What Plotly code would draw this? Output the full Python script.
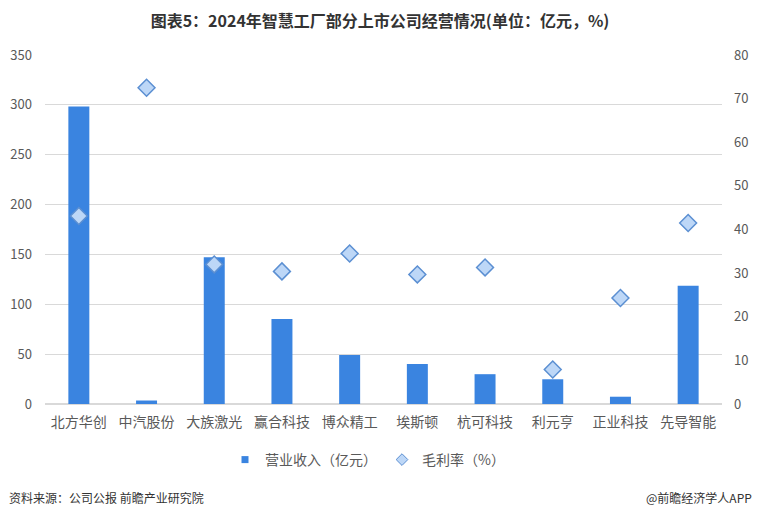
import plotly.graph_objects as go

categories = ["北方华创", "中汽股份", "大族激光", "赢合科技", "博众精工", "埃斯顿", "杭可科技", "利元亨", "正业科技", "先导智能"]
revenue = [298.4, 3.5, 147.2, 85.2, 49.2, 40.1, 29.9, 24.8, 7.3, 118.5]
margin = [43.1, 72.5, 32.0, 30.4, 34.5, 29.7, 31.3, 7.9, 24.3, 41.5]
left_ticks = [0, 50, 100, 150, 200, 250, 300, 350]
right_ticks = [0, 10, 20, 30, 40, 50, 60, 70, 80]

FONT = "Noto Sans CJK SC"
PW, PH = 677, 349
OFF = 8  # page offset compensation

BAR_C = "#3a84e0"
DIA_FILL = "#bdd7f7"
DIA_LINE = "#5b8fd2"

fig = go.Figure()
fig.add_trace(go.Bar(
    x=categories, y=revenue, name="营业收入（亿元）", showlegend=False,
    marker=dict(color=BAR_C, line=dict(width=0)),
    width=0.31,
))
fig.add_trace(go.Scatter(
    x=categories, y=margin, name="毛利率（%）", mode="markers", yaxis="y2", showlegend=False,
    marker=dict(symbol="diamond", size=13, color=DIA_FILL, line=dict(color=DIA_LINE, width=1.5)),
))
# legend-only entries with small symbols like the reference
fig.add_trace(go.Scatter(
    x=[None], y=[None], name="营业收入（亿元）", mode="markers",
    marker=dict(symbol="square", size=7, color=BAR_C),
))
fig.add_trace(go.Scatter(
    x=[None], y=[None], name="毛利率（%）", mode="markers", yaxis="y2",
    marker=dict(symbol="diamond", size=9, color=DIA_FILL, line=dict(color=DIA_LINE, width=1)),
))

fig.update_layout(
    width=760, height=519,
    margin=dict(l=45 - OFF, r=38 + OFF, t=55 - OFF, b=115 + OFF, autoexpand=False),
    paper_bgcolor="white", plot_bgcolor="white",
    font=dict(family=FONT, color="#595959", size=13),
    title=dict(text="<b>图表5：2024年智慧工厂部分上市公司经营情况(单位：亿元，%)</b>",
               x=(380 - OFF) / 760, xanchor="center", xref="container", y=1 - (21 - OFF)/519,
               yanchor="middle", font=dict(size=16, color="#333333", family=FONT)),
    xaxis=dict(tickfont=dict(size=14, color="#595959"), showgrid=False, showline=False, ticks="",
               automargin=False, range=[-0.5, 9.5], type="category", ticklabelstandoff=8),
    yaxis=dict(range=[0, 350], tickvals=left_ticks, gridcolor="#d9d9d9", gridwidth=1,
               zeroline=True, zerolinecolor="#d9d9d9", tickfont=dict(size=13), ticks="",
               automargin=False, ticklabelstandoff=12),
    yaxis2=dict(range=[0, 80], tickvals=right_ticks, overlaying="y", side="right", showgrid=False,
                zeroline=False, tickfont=dict(size=13), ticks="", automargin=False,
                ticklabelstandoff=11),
    showlegend=True,
    legend=dict(orientation="h", x=(225-45)/PW, xanchor="left", y=-(460-404)/PH, yanchor="middle",
                font=dict(size=14, color="#595959"), itemwidth=30, traceorder="normal"),
    annotations=[
        dict(text="资料来源：公司公报 前瞻产业研究院", xref="paper", yref="paper",
             x=-38/PW, xanchor="left", y=-(497-404)/PH, yanchor="middle", showarrow=False,
             font=dict(size=12, color="#333333")),
        dict(text="@前瞻经济学人APP", xref="paper", yref="paper",
             x=(754-45)/PW, xanchor="right", y=-(497-404)/PH, yanchor="middle", showarrow=False,
             font=dict(size=12, color="#333333")),
    ],
)

fig.write_html("out.html")
